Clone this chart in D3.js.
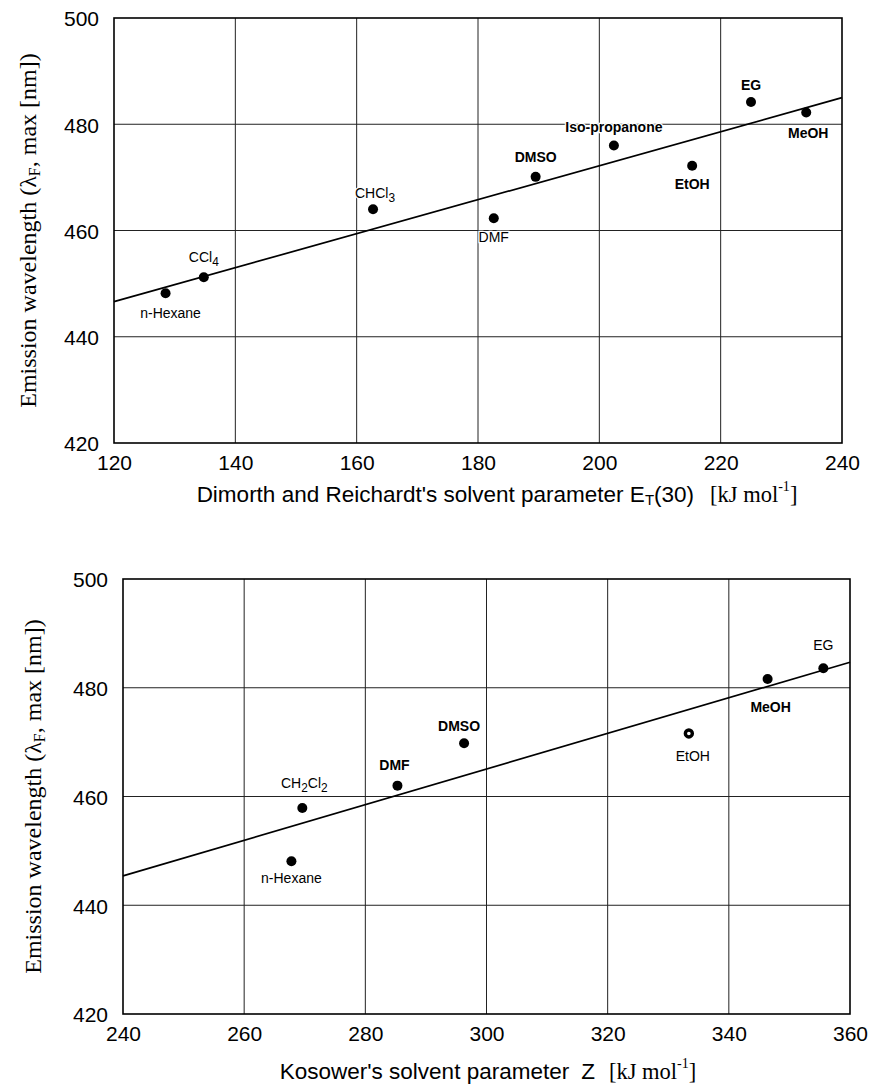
<!DOCTYPE html>
<html><head><meta charset="utf-8">
<script src="https://cdn.jsdelivr.net/npm/d3@7"></script>
<style>body{margin:0;background:#fff}</style>
</head><body>
<svg id="c" width="871" height="1084" xmlns="http://www.w3.org/2000/svg"></svg>
<script>
// ---------- DATA ----------
const topSolvents = ["n-Hexane", "CCl_4", "CHCl_3", "DMF", "DMSO", "Iso-propanone", "EtOH", "EG", "MeOH"];
const topET30 = [128.5, 134.8, 162.7, 182.6, 189.5, 202.4, 215.3, 225.0, 234.1];
const topLambda = [448.2, 451.2, 464.0, 462.3, 470.1, 476.0, 472.2, 484.2, 482.2];
const topFitX = [120, 240];
const topFitY = [446.6, 485.0];
const topXTicks = [120, 140, 160, 180, 200, 220, 240];

const bottomSolvents = ["n-Hexane", "CH_2Cl_2", "DMF", "DMSO", "EtOH", "MeOH", "EG"];
const bottomZ = [267.8, 269.6, 285.3, 296.3, 333.4, 346.4, 355.6];
const bottomLambda = [448.1, 457.9, 462.0, 469.8, 471.6, 481.6, 483.6];
const bottomFitX = [240, 360];
const bottomFitY = [445.4, 484.7];
const bottomXTicks = [240, 260, 280, 300, 320, 340, 360];

const yTicks = [420, 440, 460, 480, 500];

// ---------- LAYOUT / STYLE (not data) ----------
const topLabelOffsets = [[5, 20], [0, -20], [2, -16], [0, 19], [0, -20], [0, -19], [0, 18], [0, -17], [2, 20]];
const topLabelBold = [false, false, false, false, true, true, true, true, true];
const bottomLabelOffsets = [[0, 17], [2, -25], [-3, -21], [-5, -17], [4, 23], [3, 28], [0, -23]];
const bottomLabelBold = [false, false, true, true, false, true, false];
const bottomRing = [false, false, false, false, true, false, false];

const SANS = "'Liberation Sans', Arial, Helvetica, sans-serif";
const SERIF = "'Liberation Serif', 'Times New Roman', serif";
const LABEL_SIZE = 14;

const svg = d3.select("#c");

function rich(textSel, str, baseSize) {
  const parts = [];
  for (let i = 0; i < str.length; i++) {
    if (str[i] === "_" && i + 1 < str.length) { parts.push({t: str[i + 1], sub: true}); i++; }
    else {
      if (parts.length && !parts[parts.length - 1].sub) parts[parts.length - 1].t += str[i];
      else parts.push({t: str[i], sub: false});
    }
  }
  let shifted = false;
  parts.forEach(p => {
    const ts = textSel.append("tspan").text(p.t);
    if (p.sub && !shifted) { ts.attr("dy", baseSize * 0.35).attr("font-size", baseSize * 0.85); shifted = true; }
    else if (!p.sub && shifted) { ts.attr("dy", -baseSize * 0.35); shifted = false; }
    else if (p.sub) ts.attr("font-size", baseSize * 0.85);
  });
}

function drawChart(o) {
  const x = d3.scaleLinear().domain(o.xDomain).range([o.left, o.right]);
  const y = d3.scaleLinear().domain([420, 500]).range([o.bottom, o.top]);
  const g = svg.append("g");

  g.append("g").selectAll("line").data(o.xTicks.slice(1, -1)).join("line")
    .attr("x1", d => x(d)).attr("x2", d => x(d)).attr("y1", o.top).attr("y2", o.bottom)
    .attr("stroke", "#222").attr("stroke-width", 1);
  g.append("g").selectAll("line").data(yTicks.slice(1, -1)).join("line")
    .attr("x1", o.left).attr("x2", o.right).attr("y1", d => y(d)).attr("y2", d => y(d))
    .attr("stroke", "#222").attr("stroke-width", 1);

  g.append("rect").attr("x", o.left).attr("y", o.top).attr("width", o.right - o.left).attr("height", o.bottom - o.top)
    .attr("fill", "none").attr("stroke", "#000").attr("stroke-width", 1.6);

  const xa = g.append("g").attr("transform", `translate(0,${o.bottom})`)
    .call(d3.axisBottom(x).tickValues(o.xTicks).tickSize(0).tickPadding(12).tickFormat(d3.format("d")));
  xa.select(".domain").remove();
  xa.selectAll("text").attr("font-family", SANS).attr("font-size", 21).attr("fill", "#000");
  const ya = g.append("g").attr("transform", `translate(${o.left},0)`)
    .call(d3.axisLeft(y).tickValues(yTicks).tickSize(0).tickPadding(15).tickFormat(d3.format("d")));
  ya.select(".domain").remove();
  ya.selectAll("text").attr("font-family", SANS).attr("font-size", 21).attr("fill", "#000").attr("dy", "0.38em");

  const line = d3.line().x(d => x(d[0])).y(d => y(d[1]));
  g.append("path").datum(o.fitX.map((v, i) => [v, o.fitY[i]]))
    .attr("d", line).attr("fill", "none").attr("stroke", "#000").attr("stroke-width", 1.7);

  const pts = o.xs.map((v, i) => ({x: v, y: o.ys[i], name: o.names[i], off: o.offsets[i], bold: o.bold[i], ring: o.ring ? o.ring[i] : false}));
  g.append("g").selectAll("circle").data(pts).join("circle")
    .attr("cx", d => x(d.x)).attr("cy", d => y(d.y)).attr("r", d => d.ring ? 3.5 : 5)
    .attr("fill", d => d.ring ? "#fff" : "#000").attr("stroke", "#000").attr("stroke-width", d => d.ring ? 3.4 : 0);

  pts.forEach(d => {
    const t = g.append("text")
      .attr("x", x(d.x) + d.off[0]).attr("y", y(d.y) + d.off[1])
      .attr("text-anchor", "middle").attr("dominant-baseline", "central")
      .attr("font-family", SANS).attr("font-size", LABEL_SIZE)
      .attr("font-weight", d.bold ? "bold" : "normal")
      .attr("fill", "#000")
      .attr("stroke", "#fff").attr("stroke-width", 2.5).attr("paint-order", "stroke");
    rich(t, d.name, LABEL_SIZE);
  });

  const yt = g.append("text")
    .attr("transform", `translate(${o.yTitleX},${(o.top + o.bottom) / 2}) rotate(-90)`)
    .attr("text-anchor", "middle").attr("dominant-baseline", "central")
    .attr("font-family", SERIF).attr("font-size", 24).attr("fill", "#000");
  yt.append("tspan").text("Emission wavelength (λ");
  yt.append("tspan").text("F").attr("font-size", 16).attr("dy", 6);
  yt.append("tspan").text(", max [nm])").attr("dy", -6);

  const xt = g.append("text")
    .attr("x", o.xTitleCx).attr("y", o.xTitleY)
    .attr("text-anchor", "middle").attr("dominant-baseline", "central")
    .attr("font-family", SANS).attr("font-size", 22.5).attr("fill", "#000");
  o.xTitle(xt);
}

drawChart({
  xDomain: [120, 240], left: 114, right: 842, top: 18, bottom: 443,
  xTicks: topXTicks, fitX: topFitX, fitY: topFitY,
  xs: topET30, ys: topLambda, names: topSolvents, offsets: topLabelOffsets, bold: topLabelBold,
  yTitleX: 28, xTitleCx: 497, xTitleY: 494,
  xTitle: t => {
    t.append("tspan").text("Dimorth and Reichardt's solvent parameter E");
    t.append("tspan").text("T").attr("font-size", 15).attr("dy", 5);
    t.append("tspan").text("(30)").attr("dy", -5);
    t.append("tspan").text("[kJ mol").attr("font-family", SERIF).attr("dx", 16);
    t.append("tspan").text("-1").attr("font-family", SERIF).attr("font-size", 14).attr("dy", -8);
    t.append("tspan").text("]").attr("font-family", SERIF).attr("dy", 8);
  }
});

drawChart({
  xDomain: [240, 360], left: 123, right: 850, top: 579, bottom: 1014,
  xTicks: bottomXTicks, fitX: bottomFitX, fitY: bottomFitY,
  xs: bottomZ, ys: bottomLambda, names: bottomSolvents, offsets: bottomLabelOffsets, bold: bottomLabelBold, ring: bottomRing,
  yTitleX: 33, xTitleCx: 488, xTitleY: 1071,
  xTitle: t => {
    t.append("tspan").text("Kosower's solvent parameter");
    t.append("tspan").text("Z").attr("dx", 12);
    t.append("tspan").text("[kJ mol").attr("font-family", SERIF).attr("dx", 14);
    t.append("tspan").text("-1").attr("font-family", SERIF).attr("font-size", 14).attr("dy", -8);
    t.append("tspan").text("]").attr("font-family", SERIF).attr("dy", 8);
  }
});
</script>
</body></html>
